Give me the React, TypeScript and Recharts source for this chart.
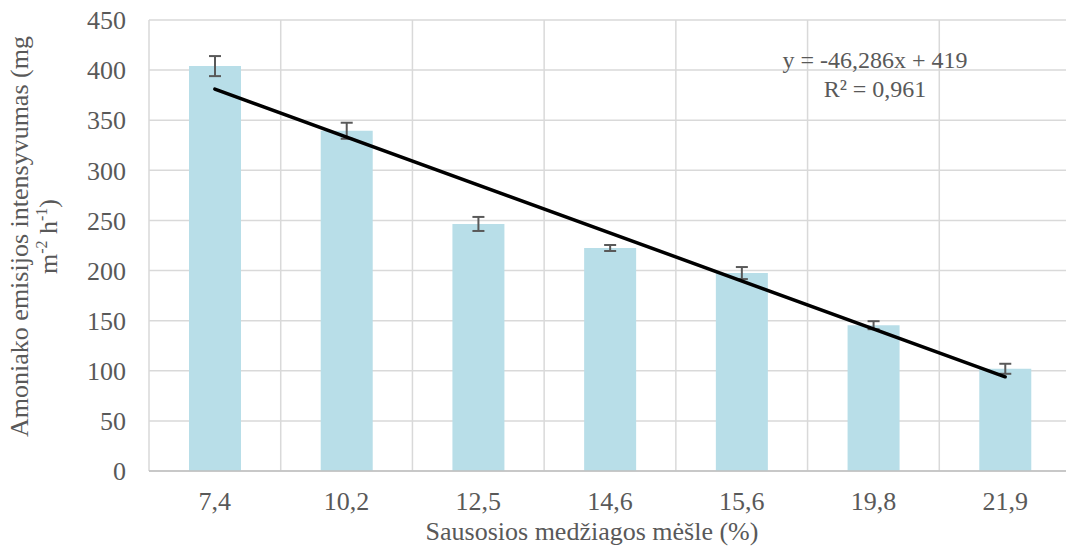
import { Bar, CartesianGrid, ComposedChart, ErrorBar, Line, XAxis, YAxis } from 'recharts';

const categories = ['7,4', '10,2', '12,5', '14,6', '15,6', '19,8', '21,9'];
const emission = [404, 339.5, 246.5, 222.5, 197.5, 145.5, 102];
const emissionErr = [10, 8, 7, 3, 6, 4, 5];
// trendline ends as drawn on the chart (middle points left empty)
const trend = [381, null, null, null, null, null, 94];
const yTicks = [0, 50, 100, 150, 200, 250, 300, 350, 400, 450];

const data = categories.map((cat, i) => ({ cat, value: emission[i], err: emissionErr[i], trend: trend[i] }));

const FONT = '"Liberation Serif", "Times New Roman", serif';
const TEXT = '#595959';

function boundaryLines({ offset }: any) {
  const step = offset.width / categories.length;
  return categories.map((_, i) => offset.left + step * i).concat(offset.left + offset.width);
}

function YTitle({ viewBox }: any) {
  const cy = viewBox.y + viewBox.height / 2 - 9;
  return (
    <g fill={TEXT} fontFamily={FONT} fontSize={26}>
      <text x={28} y={cy} textAnchor="middle" transform={`rotate(-90, 28, ${cy})`}>
        Amoniako emisijos intensyvumas (mg
      </text>
      <text x={57} y={cy} textAnchor="middle" transform={`rotate(-90, 57, ${cy})`}>
        m<tspan dy={-10} fontSize={16}>-2</tspan>
        <tspan dy={10}> h</tspan>
        <tspan dy={-10} fontSize={16}>-1</tspan>
        <tspan dy={10}>)</tspan>
      </text>
    </g>
  );
}

function XTitle() {
  return (
    <g fill={TEXT} fontFamily={FONT}>
      <text x={592} y={540} textAnchor="middle" fontSize={26}>
        Sausosios medžiagos mėšle (%)
      </text>
      <text x={875} y={68} textAnchor="middle" fontSize={24}>
        y = -46,286x + 419
      </text>
      <text x={875} y={97} textAnchor="middle" fontSize={24}>
        R² = 0,961
      </text>
    </g>
  );
}

export default function App() {
  return (
    <div style={{ position: 'absolute', left: 0, top: 0, width: 1066, height: 552, overflow: 'hidden', background: '#fff', fontFamily: FONT }}>
      <ComposedChart width={1080} height={552} data={data} margin={{ top: 20, right: 9, bottom: 0, left: 0 }} style={{ fontFamily: FONT }}>
        <CartesianGrid stroke="#D9D9D9" strokeWidth={1.5} verticalCoordinatesGenerator={boundaryLines} />
        <XAxis
          dataKey="cat"
          height={81}
          axisLine={{ stroke: '#BFBFBF', strokeWidth: 1.5 }}
          tickLine={false}
          tickSize={0}
          tickMargin={21}
          tick={{ fill: TEXT, fontSize: 26, fontFamily: FONT }}
          label={{ content: XTitle }}
        />
        <YAxis
          width={149}
          domain={[0, 450]}
          ticks={yTicks}
          axisLine={false}
          tickLine={false}
          tickSize={0}
          tickMargin={23}
          tick={{ fill: TEXT, fontSize: 26, fontFamily: FONT }}
          label={{ content: YTitle }}
        />
        <Bar dataKey="value" fill="#B8DEE8" barSize={52} isAnimationActive={false}>
          <ErrorBar dataKey="err" width={6} stroke="#595959" strokeWidth={2} direction="y" isAnimationActive={false} />
        </Bar>
        <Line
          dataKey="trend"
          type="linear"
          stroke="#000"
          strokeWidth={3.5}
          strokeLinecap="round"
          dot={false}
          activeDot={false}
          connectNulls
          isAnimationActive={false}
        />
      </ComposedChart>
    </div>
  );
}
